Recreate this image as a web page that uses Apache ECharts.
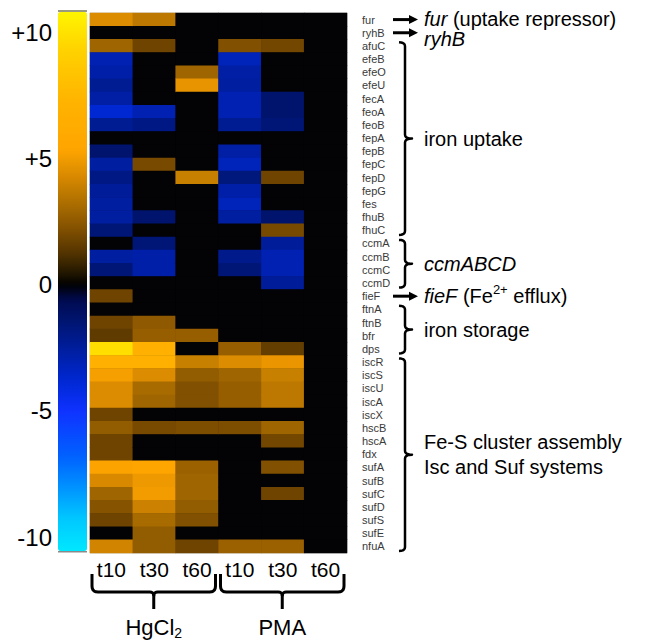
<!DOCTYPE html>
<html>
<head>
<meta charset="utf-8">
<script src="https://cdn.jsdelivr.net/npm/echarts@6/dist/echarts.min.js"></script>
<style>
  html, body { margin: 0; padding: 0; background: #fff; }
  #chart { width: 647px; height: 641px; }
</style>
</head>
<body>
<div id="chart"></div>
<script>
// Genes (rows, top to bottom)
const genes = ['fur', 'ryhB', 'afuC', 'efeB', 'efeO', 'efeU', 'fecA', 'feoA', 'feoB', 'fepA',
  'fepB', 'fepC', 'fepD', 'fepG', 'fes', 'fhuB', 'fhuC', 'ccmA', 'ccmB', 'ccmC', 'ccmD',
  'fieF', 'ftnA', 'ftnB', 'bfr', 'dps', 'iscR', 'iscS', 'iscU', 'iscA', 'iscX', 'hscB',
  'hscA', 'fdx', 'sufA', 'sufB', 'sufC', 'sufD', 'sufS', 'sufE', 'nfuA'];

// Treatments and sampling times (columns)
const treatments = ['HgCl2', 'PMA'];
const timepoints = ['t10', 't30', 't60'];

// Fold change per gene, one array per column
const hgT10 = [4.4, 0, 2.9, -3.0, -2.8, -2.3, -2.7, -3.8, -2.3, 0, -1.4, -2.6, -1.9, -2.4, -2.6,
  -2.6, -1.6, 0, -2.6, -1.6, 0, 1.8, 0, 1.8, 1.5, 9.8, 6.8, 5.1, 4.4, 4.4, 1.8, 2.6, 1.8, 1.8,
  5.3, 4.3, 2.9, 2.3, 1.8, 0, 4.1];
const hgT30 = [3.6, 0, 1.8, 0, 0, 0, 0, -3.0, -1.9, 0, 0, 2.0, 0, 0, 0, -1.4, 0, -1.6, -2.8,
  -2.8, 0, 0, 0, 2.5, 2.7, 6.8, 6.8, 4.4, 3.1, 2.9, 0, 2.0, 0, 0, 5.4, 4.9, 5.0, 4.0, 3.1, 2.6, 2.6];
const hgT60 = [0, 0, 0, 0, 2.9, 4.7, 0, 0, 0, 0, 0, 0, 3.9, 0, 0, 0, 0, 0, 0, 0, 0, 0, 0, 0,
  2.7, 0, 3.9, 2.6, 2.2, 2.2, 0, 2.1, 0, 0, 2.8, 2.9, 2.9, 2.6, 2.2, 0, 1.8];
const pmaT10 = [0, 0, 2.2, -3.2, -2.7, -2.6, -3.0, -3.0, -2.3, 0, -2.7, -3.2, -1.7, -2.8, -3.2,
  -2.6, 0, 0, -2.1, -1.6, 0, 0, 0, 0, 0, 2.7, 4.4, 2.9, 2.7, 2.7, 0, 2.1, 0, 0, 0, 0, 0, 0, 0, 0, 2.8];
const pmaT30 = [0, 0, 1.9, 0, 0, 0, -1.4, -1.4, -1.6, 0, 0, 0, 1.8, 0, 0, -1.4, 2.0, -2.4,
  -3.0, -3.0, -2.4, 0, 0, 0, 0, 1.6, 4.8, 3.9, 3.6, 3.6, 0, 2.9, 1.9, 0, 2.2, 0, 1.8, 0, 0, 0, 2.8];
const pmaT60 = [0, 0, 0, 0, 0, 0, 0, 0, 0, 0, 0, 0, 0, 0, 0, 0, 0, 0, 0, 0, 0, 0, 0, 0, 0, 0,
  0, 0, 0, 0, 0, 0, 0, 0, 0, 0, 0, 0, 0, 0, 0];

// Colour scale ticks
const colorbarTicks = [10, 5, 0, -5, -10];

// Single genes pointed at on the right
const arrowNotes = [
  { gene: 'fur', text: '{i|fur}{n| (uptake repressor)}' },
  { gene: 'ryhB', text: '{i|ryhB}' },
  { gene: 'fieF', text: '{i|fieF}{n| (Fe}{sup|2+}{n| efflux)}' }
];
// Gene groups bracketed on the right
const braceNotes = [
  { from: 'afuC', to: 'fhuC', text: '{n|iron uptake}' },
  { from: 'ccmA', to: 'ccmD', text: '{i|ccmABCD}' },
  { from: 'ftnA', to: 'dps', text: '{n|iron storage}' },
  { from: 'iscR', to: 'nfuA', text: '{n|Fe-S cluster assembly}\n{n|Isc and Suf systems}' }
];

const columnValues = [hgT10, hgT30, hgT60, pmaT10, pmaT30, pmaT60];
const columns = [];
treatments.forEach(t => timepoints.forEach(p => columns.push(t + ' ' + p)));

const cells = [];
columnValues.forEach((vals, c) => vals.forEach((v, g) => cells.push([c, g, v])));

// Diverging map: cyan - blue - black - brown - orange - yellow
const scaleMin = -10.55, scaleMax = 10.8;
const colorStops = [
  [-10.55, [0, 232, 255]], [-9.3, [0, 200, 255]], [-8.1, [0, 150, 255]], [-6.9, [0, 100, 255]],
  [-5.0, [15, 50, 255]], [-3.8, [0, 40, 210]], [-2.6, [0, 30, 160]], [-1.4, [0, 20, 110]],
  [-0.6, [0, 10, 80]], [0, [0, 0, 0]], [0.4, [30, 20, 0]], [1.2, [80, 50, 0]], [2.2, [130, 80, 0]],
  [3.4, [180, 115, 0]], [4.4, [220, 140, 0]], [5.35, [255, 165, 0]], [7.3, [255, 180, 0]],
  [9.3, [255, 210, 0]], [10.8, [255, 245, 0]]
];
function colorAt(v) {
  for (let i = 1; i < colorStops.length; i++) {
    const [v1, c1] = colorStops[i];
    const [v0, c0] = colorStops[i - 1];
    if (v <= v1) {
      const f = (v - v0) / (v1 - v0);
      const c = c0.map((x, k) => Math.round(x + (c1[k] - x) * f));
      return 'rgb(' + c.join(',') + ')';
    }
  }
  return 'rgb(' + colorStops[colorStops.length - 1][1].join(',') + ')';
}
const rampSteps = 120;
const ramp = [];
for (let i = 0; i <= rampSteps; i++) ramp.push(colorAt(scaleMin + (scaleMax - scaleMin) * i / rampSteps));

const FONT = "'Liberation Sans', Arial, sans-serif";
const chart = echarts.init(document.getElementById('chart'), null, { renderer: 'svg' });

const bar = { left: 58, top: 12, width: 29, height: 539 };

chart.setOption({
  animation: false,
  backgroundColor: '#fff',
  textStyle: { fontFamily: FONT },
  grid: [
    { left: 90, top: 13, right: 300, bottom: 88, show: true, backgroundColor: '#000', borderColor: '#c8c8c8', borderWidth: 1 },
    { left: bar.left, top: bar.top, width: bar.width, height: bar.height }
  ],
  xAxis: [
    {
      type: 'category', gridIndex: 0, data: columns, position: 'bottom',
      axisLine: { show: false }, axisTick: { show: false }, splitLine: { show: false },
      axisLabel: { interval: 0, margin: 6, fontSize: 21, color: '#000', formatter: v => v.split(' ')[1] }
    },
    { type: 'value', gridIndex: 1, show: false }
  ],
  yAxis: [
    {
      type: 'category', gridIndex: 0, data: genes, inverse: true, position: 'right',
      axisLine: { show: false }, axisTick: { show: false }, splitLine: { show: false },
      axisLabel: { interval: 0, margin: 15, fontSize: 11, color: '#3a3a3a' }
    },
    {
      type: 'value', gridIndex: 1, min: scaleMin, max: scaleMax, position: 'left',
      axisLine: { show: false }, axisTick: { show: false }, splitLine: { show: false },
      axisLabel: {
        customValues: colorbarTicks, margin: 6, fontSize: 24, color: '#000',
        formatter: v => (v > 0 ? '+' + v : String(v))
      }
    }
  ],
  visualMap: {
    type: 'continuous', min: scaleMin, max: scaleMax, orient: 'vertical',
    left: bar.left, top: bar.top, itemWidth: bar.width, itemHeight: bar.height,
    padding: 0, calculable: false, text: null, showLabel: false, hoverLink: false,
    seriesIndex: 0,
    inRange: { color: ramp }
  },
  series: [{
    type: 'heatmap', xAxisIndex: 0, yAxisIndex: 0, data: cells,
    itemStyle: { borderWidth: 0 }, emphasis: { disabled: true }
  }]
});

// Annotations placed from the axes' own scales
const rowY = g => chart.convertToPixel({ yAxisIndex: 0 }, genes.indexOf(g));
const colX = c => chart.convertToPixel({ xAxisIndex: 0 }, c);
const rowStep = rowY(genes[1]) - rowY(genes[0]);
const colStep = colX(1) - colX(0);
const gridRight = colX(columns.length - 1) + colStep / 2;
const gridBottom = rowY(genes[genes.length - 1]) + rowStep / 2;

function richFor(lh) {
  return {
    i: { fontStyle: 'italic', fontSize: 20, fontFamily: FONT, lineHeight: lh, fill: '#000' },
    n: { fontSize: 20, fontFamily: FONT, lineHeight: lh, fill: '#000' },
    sup: { fontSize: 13, fontFamily: FONT, lineHeight: 13, verticalAlign: 'top', fill: '#000' }
  };
}

// Quadratic curve sampled into points for polylines
function quad(p0, c, p1, n) {
  const pts = [];
  for (let k = 1; k <= n; k++) {
    const s = k / n, u = 1 - s;
    pts.push([u * u * p0[0] + 2 * u * s * c[0] + s * s * p1[0], u * u * p0[1] + 2 * u * s * c[1] + s * s * p1[1]]);
  }
  return pts;
}

const textX = gridRight + 77;
const graphics = [];

// Arrows; notes on neighbouring rows share one text block so the lines stack cleanly
const arrowBlocks = [];
arrowNotes.forEach(a => {
  const idx = genes.indexOf(a.gene);
  const y = rowY(a.gene);
  const x0 = gridRight + 46, x1 = gridRight + 62, x2 = gridRight + 71;
  graphics.push({ type: 'line', shape: { x1: x0, y1: y, x2: x1 + 1, y2: y }, style: { stroke: '#000', lineWidth: 3 } });
  graphics.push({ type: 'polygon', shape: { points: [[x1, y - 4.5], [x2, y], [x1, y + 4.5]] }, style: { fill: '#000' } });
  const last = arrowBlocks[arrowBlocks.length - 1];
  if (last && last.lastIdx === idx - 1) {
    last.lines.push(a.text); last.ys.push(y); last.lastIdx = idx;
  } else {
    arrowBlocks.push({ lines: [a.text], ys: [y], lastIdx: idx });
  }
});
arrowBlocks.forEach(b => {
  const multi = b.lines.length > 1;
  const lh = multi ? 20 : 26;
  const yc = b.ys.reduce((s, v) => s + v, 0) / b.ys.length + (multi ? 3 : 0);
  graphics.push({
    type: 'text', x: textX, y: yc,
    style: { text: b.lines.join('\n'), fill: '#000', verticalAlign: 'middle', align: 'left', rich: richFor(lh) }
  });
});

braceNotes.forEach(b => {
  const top = rowY(b.from) - rowStep / 2 + 3;
  const bot = rowY(b.to) + rowStep / 2 - 2;
  const mid = (top + bot) / 2;
  const x0 = gridRight + 52, x1 = gridRight + 58, x2 = gridRight + 65, r = 4;
  let pts = [[x0, top]];
  pts = pts.concat(quad([x0, top], [x1, top], [x1, top + r], 5));
  pts.push([x1, mid - r]);
  pts = pts.concat(quad([x1, mid - r], [x1, mid], [x2, mid], 5));
  pts = pts.concat(quad([x2, mid], [x1, mid], [x1, mid + r], 5));
  pts.push([x1, bot - r]);
  pts = pts.concat(quad([x1, bot - r], [x1, bot], [x0, bot], 5));
  graphics.push({ type: 'polyline', shape: { points: pts }, style: { stroke: '#000', lineWidth: 2.5, fill: null, lineJoin: 'round' } });
  graphics.push({
    type: 'text', x: textX, y: mid,
    style: { text: b.text, fill: '#000', verticalAlign: 'middle', align: 'left', rich: richFor(25) }
  });
});

// Treatment braces under the columns
treatments.forEach((t, k) => {
  const first = k * timepoints.length, last = first + timepoints.length - 1;
  const l = colX(first) - colStep / 2 + 2, rr = colX(last) + colStep / 2 - 3;
  const m = (l + rr) / 2;
  const t0 = gridBottom + 21, h = gridBottom + 39, tip = gridBottom + 56, r = 6;
  let left = [[l, t0], [l, h - r]];
  left = left.concat(quad([l, h - r], [l, h], [l + r, h], 5));
  left.push([m - 4, h]);
  left = left.concat(quad([m - 4, h], [m, h], [m, h + 4], 4));
  left.push([m, tip]);
  let right = [[m, h + 4]];
  right = right.concat(quad([m, h + 4], [m, h], [m + 4, h], 4));
  right.push([rr - r, h]);
  right = right.concat(quad([rr - r, h], [rr, h], [rr, h - r], 5));
  right.push([rr, t0]);
  [left, right].forEach(p => graphics.push({ type: 'polyline', shape: { points: p }, style: { stroke: '#000', lineWidth: 3, fill: null, lineJoin: 'round' } }));
  const label = t === 'HgCl2' ? '{b|HgCl}{sub|2}' : '{b|' + t + '}';
  graphics.push({
    type: 'text', x: m, y: gridBottom + 74,
    style: {
      text: label, fill: '#000', align: 'center', verticalAlign: 'middle',
      rich: {
        b: { fontSize: 22, fontFamily: FONT, lineHeight: 26, fill: '#000' },
        sub: { fontSize: 14, fontFamily: FONT, lineHeight: 14, verticalAlign: 'bottom', fill: '#000' }
      }
    }
  });
});

// Thin grey caps on the colour bar
graphics.push({ type: 'rect', shape: { x: bar.left, y: bar.top - 2, width: bar.width, height: 2 }, style: { fill: '#9a9a80' } });
graphics.push({ type: 'rect', shape: { x: bar.left, y: bar.top + bar.height, width: bar.width, height: 1.5 }, style: { fill: '#8a8a8a' } });

chart.setOption({ graphic: graphics });
</script>
</body>
</html>
